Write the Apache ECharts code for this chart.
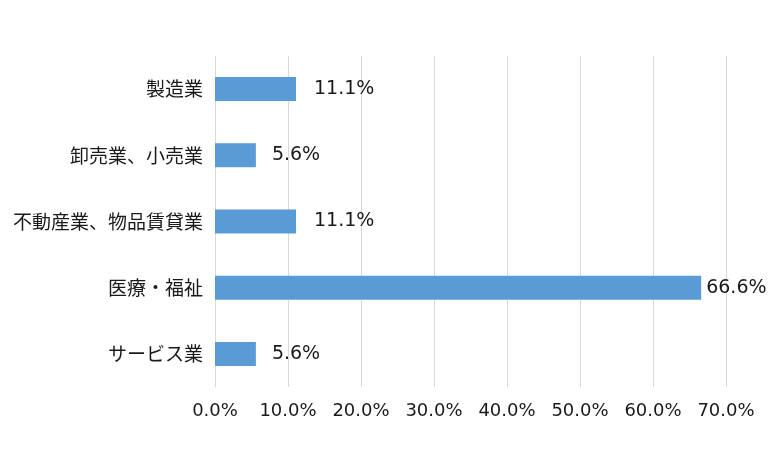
<!DOCTYPE html>
<html><head><meta charset="utf-8">
<script src="https://cdn.jsdelivr.net/npm/echarts@6/dist/echarts.min.js"></script>
<style>html,body{margin:0;padding:0;background:#fff}#c{width:783px;height:460px}</style>
</head><body><div id="c"></div>
<script>
const categories = ['製造業', '卸売業、小売業', '不動産業、物品賃貸業', '医療・福祉', 'サービス業'];
const values = [11.1, 5.6, 11.1, 66.6, 5.6];
const tickLabels = ['0.0%', '10.0%', '20.0%', '30.0%', '40.0%', '50.0%', '60.0%', '70.0%'];
const labelGaps = [18, 16, 18, 5, 16];

const cjkFont = '"Noto Sans CJK JP", sans-serif';
const numFont = '"DejaVu Sans", "Noto Sans", sans-serif';
const chart = echarts.init(document.getElementById('c'));
chart.setOption({
  animation: false,
  grid: { left: 215, right: 57, top: 56, bottom: 73, containLabel: false },
  xAxis: {
    type: 'value', min: 0, max: 70, interval: 10,
    axisLine: { show: false }, axisTick: { show: false },
    splitLine: { lineStyle: { color: '#d9d9d9', width: 1 } },
    axisLabel: {
      margin: 15, fontFamily: numFont, fontSize: 18, color: '#1a1a1a',
      formatter: v => tickLabels[Math.round(v / 10)]
    }
  },
  yAxis: {
    type: 'category', data: categories, inverse: true,
    axisLine: { show: true, lineStyle: { color: '#d9d9d9' } },
    axisTick: { show: false },
    axisLabel: { margin: 12, fontFamily: cjkFont, fontSize: 19, color: '#1a1a1a' }
  },
  series: [{
    type: 'bar', barWidth: 24,
    itemStyle: { color: '#5b9bd5' },
    data: values.map((v, i) => ({
      value: v,
      label: { distance: labelGaps[i] }
    })),
    label: {
      show: true, position: 'right', fontFamily: numFont, fontSize: 19, color: '#1a1a1a',
      formatter: p => p.value.toFixed(1) + '%'
    }
  }]
});
</script></body></html>
